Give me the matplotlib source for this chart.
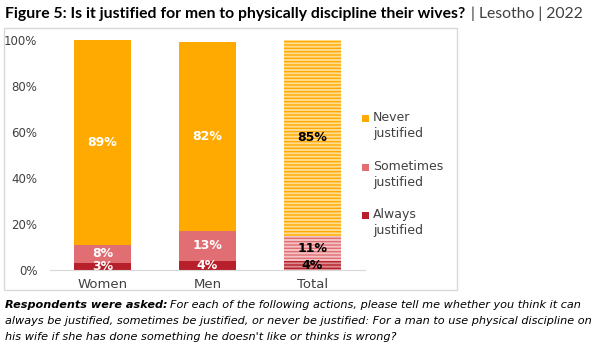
import matplotlib
matplotlib.use("Agg")
import matplotlib.pyplot as plt
from matplotlib.patches import Rectangle

# data
categories = ["Women", "Men", "Total"]
always = [3, 4, 4]
sometimes = [8, 13, 11]
never = [89, 82, 85]
series_names = ["Never\njustified", "Sometimes\njustified", "Always\njustified"]

c_never, c_some, c_always = "#FFAA00", "#E06E73", "#B7202A"
# lighter tints for the striped Total bar
t_never, t_some, t_always = "#FFDC90", "#F4C2C4", "#D98A8E"

plt.rcParams['font.family'] = ['DejaVu Sans']
plt.rcParams['hatch.linewidth'] = 1.0

W, H = 602, 355
fig = plt.figure(figsize=(W / 100, H / 100), dpi=100)

def px(x, y):
  return x / W, 1 - y / H

# outer frame
fig.patches.append(Rectangle(px(4, 290), 453 / W, 262 / H, transform=fig.transFigure,
                             fill=False, edgecolor="#D9D9D9", lw=1))

l, b = px(50, 270)
ax = fig.add_axes([l, b, 315 / W, 230 / H])
ax.set_xlim(-0.5, 2.5)
ax.set_ylim(0, 100)

x = list(range(len(categories)))
w = 0.55
for i in x:
  striped = categories[i] == "Total"
  bottoms = [0, always[i], always[i] + sometimes[i]]
  vals = [always[i], sometimes[i], never[i]]
  cols = [c_always, c_some, c_never]
  tints = [t_always, t_some, t_never]
  for k in range(3):
    if striped:
      ax.bar(i, vals[k], w, bottom=bottoms[k], color=tints[k], edgecolor=cols[k],
             hatch="-----", linewidth=0)
    else:
      ax.bar(i, vals[k], w, bottom=bottoms[k], color=cols[k], linewidth=0)
    tc = "black" if striped else "white"
    ax.text(i, bottoms[k] + vals[k] / 2, f"{vals[k]}%", ha="center", va="center",
            color=tc, fontsize=9, fontweight="bold", clip_on=True)

for s in ["top", "right", "left"]:
  ax.spines[s].set_visible(False)
ax.spines["bottom"].set_color("#D9D9D9")
ax.set_yticks(range(0, 101, 20))
ax.set_yticklabels([f"{v}%" for v in range(0, 101, 20)], fontsize=8.5, color="#404040")
ax.set_xticks(x)
ax.set_xticklabels(categories, fontsize=9.5, color="#404040")
ax.tick_params(length=0, pad=9)
ax.tick_params(axis="x", pad=6)

# legend
leg_y = [118, 167, 215]
leg_c = [c_never, c_some, c_always]
for name, yy, cc in zip(series_names, leg_y, leg_c):
  fig.patches.append(Rectangle(px(362, yy + 4), 7 / W, 7 / H, transform=fig.transFigure,
                               color=cc, lw=0))
  fig.text(*px(373, yy - 7), name, fontsize=9, color="#404040", va="top",
           linespacing=1.3)

# title
t1 = fig.text(*px(5, 14), "Figure 5: Is it justified for men to physically discipline their wives?",
              fontsize=11.3, fontweight="bold", va="center", color="black", family="Lato")
fig.canvas.draw()
bb = t1.get_window_extent()
fig.text(bb.x1 / W + 6 / W, t1.get_position()[1], "| Lesotho | 2022", fontsize=11.3,
         va="center", color="#404040", family="Lato")

# footnote
fs = 8.1
t2 = fig.text(*px(5, 305), "Respondents were asked:", fontsize=fs, style="italic",
              fontweight="bold", va="center")
fig.canvas.draw()
bb2 = t2.get_window_extent()
fig.text(bb2.x1 / W + 3 / W, t2.get_position()[1],
         "For each of the following actions, please tell me whether you think it can",
         fontsize=fs, style="italic", va="center")
fig.text(*px(5, 321), "always be justified, sometimes be justified, or never be justified: For a man to use physical discipline on",
         fontsize=fs, style="italic", va="center")
fig.text(*px(5, 337), "his wife if she has done something he doesn't like or thinks is wrong?",
         fontsize=fs, style="italic", va="center")

fig.savefig("out.png", dpi=100)
